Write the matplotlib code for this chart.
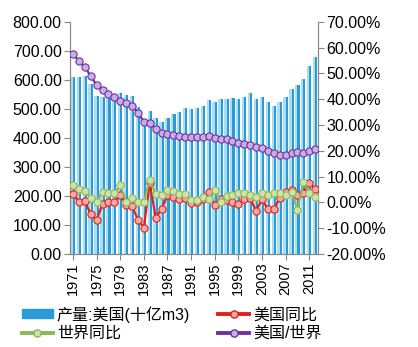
import numpy as np
import matplotlib.pyplot as plt
from matplotlib.ticker import FuncFormatter, MultipleLocator
from matplotlib.lines import Line2D
from matplotlib.patches import Patch

plt.rcParams['font.family'] = ['Liberation Sans', 'Noto Sans CJK SC']

years = list(range(1971, 2013))

# US natural gas production, bcm
us_prod = [611, 611, 614, 586, 545, 540, 543, 550, 556, 548,
           543, 505, 456, 494, 468, 454, 470, 483, 490, 502,
           500, 502, 510, 532, 525, 533, 533, 536, 533, 540,
           554, 534, 540, 525, 510, 524, 542, 570, 583, 602,
           648, 680]

# US year-on-year growth
us_yoy = [0.031, 0.003, 0.005, -0.046, -0.068, -0.006, 0.003, 0.000, 0.029, -0.010,
          -0.013, -0.068, -0.098, 0.075, -0.059, -0.026, 0.029, 0.022, 0.012, 0.018,
          -0.004, 0.003, 0.012, 0.042, -0.010, 0.012, 0.009, 0.003, -0.006, 0.013,
          0.016, -0.033, 0.012, -0.027, -0.027, 0.018, 0.039, 0.048, 0.027, 0.038,
          0.076, 0.051]

# world year-on-year growth
world_yoy = [0.067, 0.051, 0.045, 0.018, 0.003, 0.042, 0.038, 0.035, 0.067, 0.003,
             0.016, 0.003, 0.003, 0.087, 0.031, 0.029, 0.048, 0.045, 0.033, 0.031,
             0.009, 0.009, 0.020, 0.013, 0.048, 0.003, 0.025, 0.029, 0.038, 0.035,
             0.029, 0.022, 0.038, 0.029, 0.035, 0.038, 0.029, 0.042, -0.029, 0.080,
             0.035, 0.022]

# US share of world production
us_share = [0.577, 0.548, 0.526, 0.490, 0.455, 0.436, 0.420, 0.407, 0.393, 0.384,
            0.375, 0.348, 0.313, 0.309, 0.283, 0.268, 0.264, 0.261, 0.257, 0.255,
            0.254, 0.252, 0.252, 0.258, 0.251, 0.245, 0.245, 0.239, 0.229, 0.226,
            0.221, 0.213, 0.210, 0.200, 0.190, 0.184, 0.184, 0.190, 0.197, 0.190,
            0.199, 0.206]

labels = ['产量:美国(十亿m3)', '美国同比', '世界同比', '美国/世界']

x = np.arange(len(years))

fig = plt.figure(figsize=(4.18, 3.47), dpi=100)
ax = fig.add_axes([0.1675, 0.268, 0.5935, 0.669])
ax2 = ax.twinx()

# two-tone bars to mimic the gradient fill
ax.bar(x - 0.38, us_prod, width=0.38, align='edge', color='#a9def6', zorder=2)
ax.bar(x, us_prod, width=0.36, align='edge', color='#2a9bd6', zorder=2)

red, green, purple = '#e3201c', '#8db75a', '#7030a0'
ms = 5.2
ax2.plot(x, us_yoy, color=red, lw=1.6, marker='o', ms=ms,
         mfc='#f6aaa4', mec=red, mew=0.8, zorder=3)
ax2.plot(x, world_yoy, color=green, lw=1.6, marker='o', ms=ms,
         mfc='#cfe3a8', mec=green, mew=0.8, zorder=4)
ax2.plot(x, us_share, color=purple, lw=1.6, marker='o', ms=ms,
         mfc='#c9aee6', mec=purple, mew=0.8, zorder=5)

ax.set_xlim(-0.5, len(years) - 0.5)
ax.set_ylim(0, 800)
ax2.set_ylim(-0.2, 0.7)
ax.yaxis.set_major_locator(MultipleLocator(100))
ax2.yaxis.set_major_locator(MultipleLocator(0.1))
ax.yaxis.set_major_formatter(FuncFormatter(lambda v, p: f'{v:.2f}'))
ax2.yaxis.set_major_formatter(FuncFormatter(lambda v, p: f'{v * 100:.2f}%'))

ax.set_xticks(x[::4])
ax.set_xticklabels([str(y) for y in years[::4]], rotation=90, fontsize=10.5)
ax.tick_params(axis='y', labelsize=11.5, length=4, color='#888888', pad=2)
ax2.tick_params(axis='y', labelsize=11.5, length=4, color='#888888', pad=2)
ax.tick_params(axis='x', length=4, color='#888888', pad=2)

for a in (ax, ax2):
    a.spines['top'].set_visible(False)
    for s in ('left', 'right', 'bottom'):
        a.spines[s].set_color('#888888')

handles = [
    Patch(color='#2a9bd6'),
    Line2D([], [], color=green, lw=2.8, marker='o', ms=ms, mfc='#cfe3a8', mec=green),
    Line2D([], [], color=red, lw=2.8, marker='o', ms=ms, mfc='#f6aaa4', mec=red),
    Line2D([], [], color=purple, lw=2.8, marker='o', ms=ms, mfc='#c9aee6', mec=purple),
]
fig.legend(handles, [labels[0], labels[2], labels[1], labels[3]], ncol=2,
           loc='lower left', bbox_to_anchor=(0.052, 0.018), frameon=False,
           fontsize=11.5, handlelength=1.95, handleheight=0.5,
           columnspacing=1.75, labelspacing=0.2, handletextpad=0.25,
           borderpad=0, borderaxespad=0)

fig.savefig('out.png', dpi=100)
